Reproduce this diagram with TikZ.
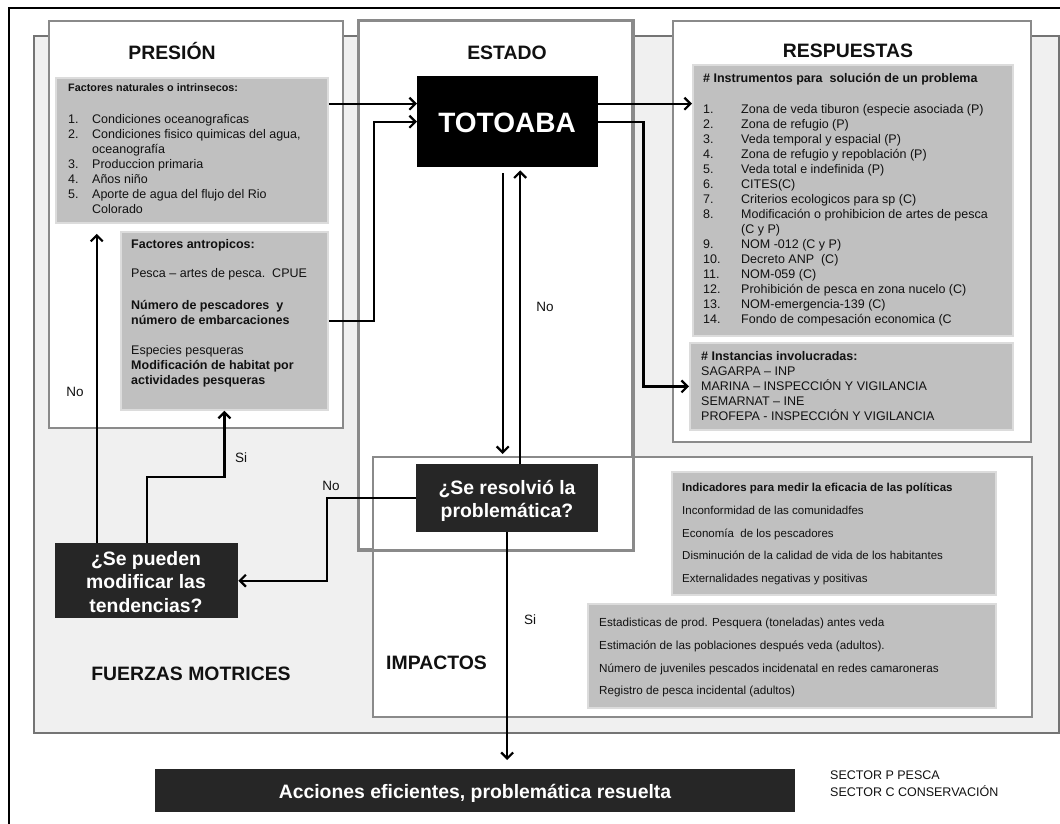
\documentclass[tikz,border=0pt]{standalone}
\usepackage{fontspec}
\setmainfont{Liberation Sans}
\usetikzlibrary{arrows.meta}
\definecolor{bgfill}{HTML}{F0F0F0}
\definecolor{bgline}{HTML}{747474}
\definecolor{panelline}{HTML}{8A8A8A}
\definecolor{boxfill}{HTML}{C0C0C0}
\definecolor{boxline}{HTML}{DCDCDC}
\definecolor{darkbox}{HTML}{262626}
\definecolor{ink}{HTML}{111111}
\begin{document}
\begin{tikzpicture}[x=1pt,y=-1pt,
  panel/.style={rectangle, inner sep=0pt, anchor=north west, fill=white, draw=panelline, line width=2.4pt},
  graybox/.style={rectangle, inner sep=0pt, anchor=north west, fill=boxfill, draw=boxline, line width=1.8pt},
  darkq/.style={rectangle, inner sep=0pt, anchor=north west, fill=darkbox},
  title/.style={inner sep=0pt, anchor=base, text=ink, font=\fontsize{19.4}{22}\selectfont\bfseries},
  whitetxt/.style={inner sep=0pt, anchor=base, text=white, font=\fontsize{19.4}{22}\selectfont\bfseries},
  txt/.style={inner sep=0pt, anchor=base west, text=ink, font=\fontsize{12.5}{14}\selectfont},
  btxt/.style={txt, font=\fontsize{12.5}{14}\selectfont\bfseries},
  small/.style={txt, font=\fontsize{11.5}{13}\selectfont},
  lbl/.style={inner sep=0pt, anchor=base, text=ink, font=\fontsize{13.5}{15}\selectfont},
  arr/.style={line width=2.2pt, draw=black, -{Straight Barb[length=6pt,width=12pt]}}
]
\useasboundingbox (0,0) rectangle (1060,823);
\fill[white] (0,0) rectangle (1060,823);

% outer frame
\draw[black, line width=2.4pt] (9,8) rectangle (1080,840);

% driving forces background
\node[rectangle, inner sep=0pt, anchor=north west, fill=bgfill, draw=bgline, line width=2.4pt,
      minimum width=1025pt, minimum height=697pt] (fuerzas) at (33,35) {};

% main panels
\node[panel, minimum width=294pt, minimum height=407pt] (presion) at (48,20) {};
\node[panel, minimum width=273pt, minimum height=528pt] (estado) at (358,20) {};
\node[panel, minimum width=358pt, minimum height=421pt] (respuestas) at (672,20) {};
\node[panel, minimum width=659pt, minimum height=260pt] (impactos) at (372,456) {};
\draw[panelline, line width=2.4pt] (estado.north west) rectangle (estado.south east);

% panel titles
\node[title] (t-presion) at (172,59) {PRESIÓN};
\node[title] (t-estado) at (507,59) {ESTADO};
\node[title] (t-resp) at (848,57) {RESPUESTAS};
\node[title] (t-fuerzas) at (191,680) {FUERZAS MOTRICES};
\node[title, anchor=base west] (t-impactos) at (386,669) {IMPACTOS};

% content boxes
\node[graybox, minimum width=272pt, minimum height=145pt] (nat) at (55,77) {};
\node[graybox, minimum width=207pt, minimum height=178pt] (ant) at (120,231) {};
\node[graybox, minimum width=320pt, minimum height=271pt] (ins) at (692,64) {};
\node[graybox, minimum width=323pt, minimum height=87pt] (inst) at (689,342) {};
\node[graybox, minimum width=324pt, minimum height=123pt] (ind) at (671,471) {};
\node[graybox, minimum width=408pt, minimum height=104pt] (est) at (587,603) {};

% state and decision boxes
\node[rectangle, inner sep=0pt, anchor=north west, fill=black, minimum width=181pt, minimum height=91pt] (tot) at (417,76) {};
\node[darkq, minimum width=182pt, minimum height=68pt] (res) at (416,464) {};
\node[darkq, minimum width=183pt, minimum height=75pt] (mod) at (55,543) {};
\node[darkq, minimum width=640pt, minimum height=43pt] (acc) at (155,769) {};

\node[whitetxt, font=\fontsize{28}{30}\selectfont\bfseries] (tot-t) at (507,132) {TOTOABA};
\node[whitetxt] (res-t1) at (507,494) {¿Se resolvió la};
\node[whitetxt] (res-t2) at (507,517) {problemática?};
\node[whitetxt] (mod-t1) at (146,565) {¿Se pueden};
\node[whitetxt] (mod-t2) at (146,588) {modificar las};
\node[whitetxt] (mod-t3) at (146,612) {tendencias?};
\node[whitetxt] (acc-t) at (475,798) {Acciones eficientes, problemática resuelta};

% natural factors
\node[btxt, font=\fontsize{10.8}{13}\selectfont\bfseries] (nat-h) at (68,91) {Factores naturales o intrinsecos:};
\foreach \n/\t [count=\i] in {1./Condiciones oceanograficas,
    2./{Condiciones fisico quimicas del agua,}, /oceanografía,
    3./Produccion primaria, 4./Años niño,
    5./Aporte de agua del flujo del Rio, /Colorado} {
  \node[txt] (nat-n\i) at (68,{123+15*(\i-1)}) {\n};
  \node[txt] (nat-t\i) at (92,{123+15*(\i-1)}) {\t};
}

% anthropic factors
\node[btxt] (ant-1) at (131,248) {Factores antropicos:};
\node[txt] (ant-2) at (131,277) {Pesca – artes de pesca.\ \ CPUE};
\node[btxt] (ant-3) at (131,309) {Número de pescadores\ \ y};
\node[btxt] (ant-4) at (131,324) {número de embarcaciones};
\node[txt] (ant-5) at (131,354) {Especies pesqueras};
\node[btxt] (ant-6) at (131,369) {Modificación de habitat por};
\node[btxt] (ant-7) at (131,384) {actividades pesqueras};

% instruments
\node[btxt] (ins-h) at (703,82) {\# Instrumentos para\ \ solución de un problema};
\foreach \n/\t [count=\i] in {1./Zona de veda tiburon (especie asociada (P),
    2./Zona de refugio (P), 3./Veda temporal y espacial (P),
    4./Zona de refugio y repoblación (P), 5./Veda total e indefinida (P),
    6./CITES(C), 7./Criterios ecologicos para sp (C),
    8./Modificación o prohibicion de artes de pesca, /(C y P),
    9./NOM -012 (C y P), 10./Decreto ANP\ \ (C), 11./NOM-059 (C),
    12./Prohibición de pesca en zona nucelo (C),
    13./NOM-emergencia-139 (C), 14./Fondo de compesación economica (C} {
  \node[txt] (ins-n\i) at (703,{113+15*(\i-1)}) {\n};
  \node[txt] (ins-t\i) at (741,{113+15*(\i-1)}) {\t};
}

% institutions
\node[btxt] (inst-h) at (701,360) {\# Instancias involucradas:};
\foreach \t [count=\i] in {SAGARPA – INP, MARINA – INSPECCIÓN Y VIGILANCIA,
    SEMARNAT – INE, PROFEPA - INSPECCIÓN Y VIGILANCIA} {
  \node[txt] (inst-t\i) at (701,{360+15*\i}) {\t};
}

% indicators
\node[small, font=\fontsize{11.5}{13}\selectfont\bfseries] (ind-h) at (682,491) {Indicadores para medir la eficacia de las políticas};
\foreach \t/\y [count=\i] in {Inconformidad de las comunidadfes/514,
    Economía\ \ de los pescadores/537,
    Disminución de la calidad de vida de los habitantes/559,
    Externalidades negativas y positivas/582} {
  \node[small] (ind-t\i) at (682,\y) {\t};
}

% statistics
\foreach \t/\y [count=\i] in {Estadisticas de prod. Pesquera (toneladas) antes veda/626,
    Estimación de las poblaciones después veda (adultos)./649,
    Número de juveniles pescados incidenatal en redes camaroneras/672,
    Registro de pesca incidental (adultos)/694} {
  \node[small, font=\fontsize{11.7}{13}\selectfont] (est-t\i) at (599,\y) {\t};
}

% sector key
\node[txt] (key-1) at (830,779) {SECTOR P PESCA};
\node[txt] (key-2) at (830,796) {SECTOR C CONSERVACIÓN};

% connectors
\coordinate (tin) at ([yshift=18pt]tot.west);
\coordinate (tout) at ([yshift=18pt]tot.east);
\draw[arr] (nat.east |- tin) -- (tin);
\draw[arr] (ant.east) -- ++(45,0) |- (tot.west);
\draw[arr] (tout) -- (ins.west |- tout);
\draw[arr] (tot.east) -- ++(45,0) |- (inst.west);

\coordinate (tdown) at ([xshift=-5pt]tot.south);
\draw[arr, shorten <=6pt, shorten >=10pt] (tdown) -- (tdown |- res.north);
\coordinate (rup) at ([xshift=13pt]res.north);
\draw[arr, shorten >=3pt] (rup) -- (rup |- tot.south);

\draw[arr] (res.west) -- ++(-89,0) |- (mod.east);
\draw[arr] (mod.north) -- ++(0,-66) -| (ant.south);
\coordinate (mup) at ([xshift=-50pt]mod.north);
\draw[arr, shorten >=10pt] (mup) -- (mup |- nat.south);
\draw[arr, shorten >=9pt] (res.south) -- (res.south |- acc.north);

% connector labels
\node[lbl] (l-no1) at (545,311) {No};
\node[lbl] (l-no2) at (331,490) {No};
\node[lbl] (l-si1) at (241,462) {Si};
\node[lbl] (l-no3) at (75,396) {No};
\node[lbl] (l-si2) at (530,624) {Si};
\end{tikzpicture}
\end{document}
